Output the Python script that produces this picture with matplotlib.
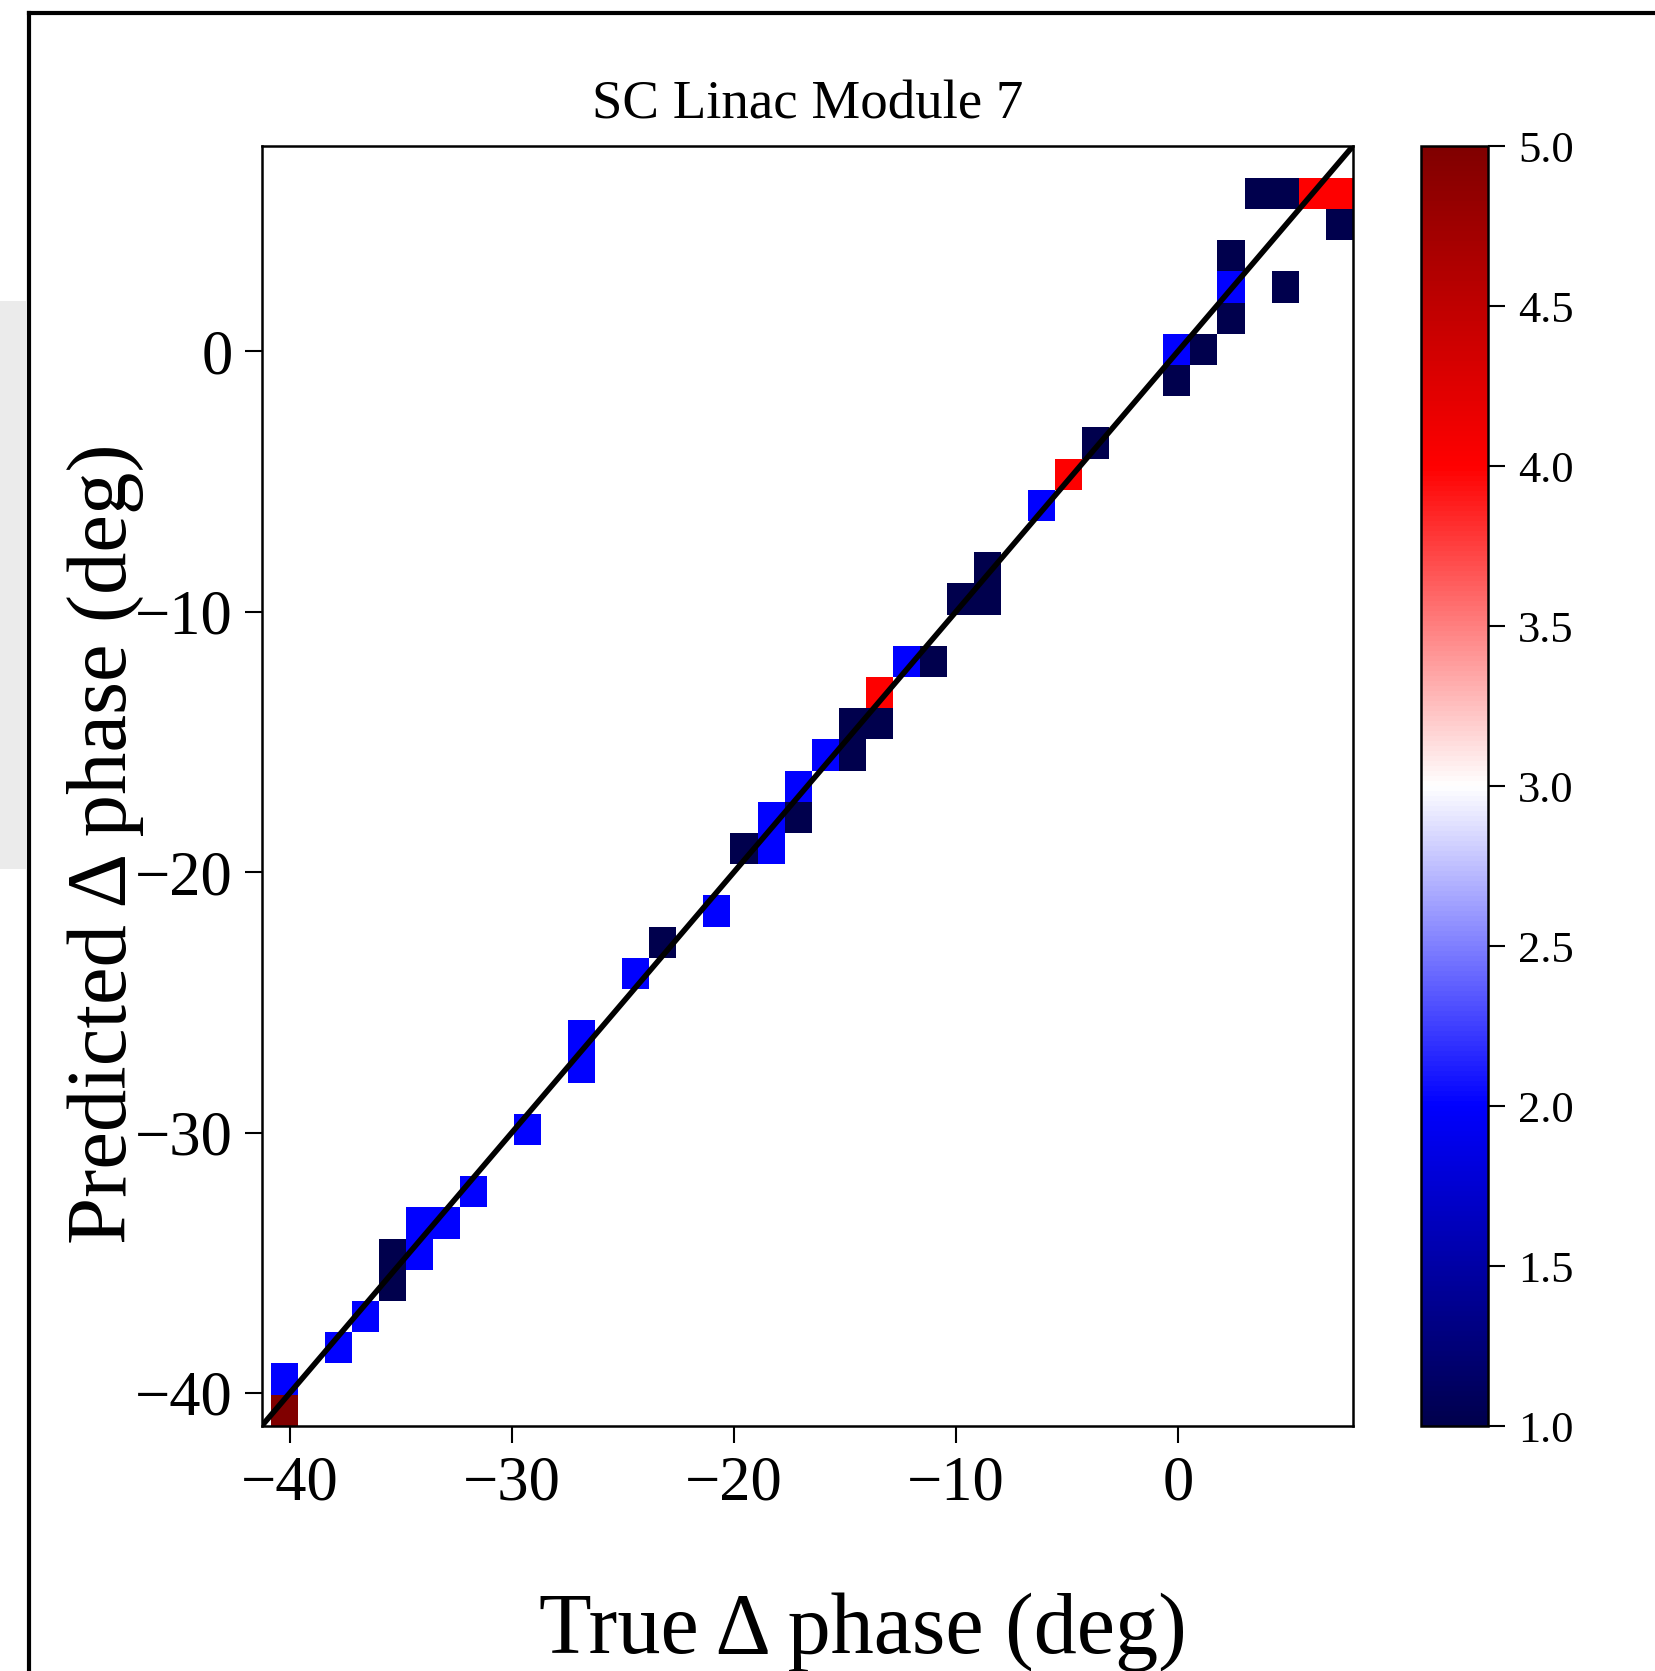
import numpy as np
import matplotlib
matplotlib.use("Agg")
import matplotlib.pyplot as plt
from matplotlib.lines import Line2D
from matplotlib.patches import Rectangle

plt.rcParams['font.family'] = ['Liberation Serif', 'DejaVu Serif']

# binned samples: true phase, predicted phase, count in bin
true_deg = [-40.26, -40.26, -37.82, -36.60, -35.39, -35.39, -34.17, -34.17,
            -32.95, -31.73, -29.30, -26.86, -26.86, -24.42, -23.20, -20.77,
            -19.55, -18.33, -18.33, -17.11, -17.11, -15.89, -14.68, -14.68,
            -13.46, -13.46, -12.24, -11.02, -9.81, -8.59, -8.59, -6.15,
            -4.93, -3.72, -0.06, -0.06, 1.16, 2.38, 2.38, 2.38, 4.81,
            3.60, 4.81, 6.03, 7.25, 7.25]
pred_deg = [-40.66, -39.46, -38.27, -37.07, -35.87, -34.67, -34.67, -33.47,
            -33.47, -32.28, -29.88, -27.48, -26.29, -23.89, -22.69, -21.49,
            -19.10, -19.10, -17.90, -17.90, -16.70, -15.50, -15.50, -14.31,
            -14.31, -13.11, -11.91, -11.91, -9.51, -9.51, -8.32, -5.92,
            -4.72, -3.52, -1.13, 0.07, 0.07, 1.27, 2.46, 3.66, 2.46,
            6.06, 6.06, 6.06, 6.06, 4.86]
counts = [5, 2, 2, 2, 1, 1, 2, 2,
          2, 2, 2, 2, 2, 2, 1, 2,
          1, 2, 2, 1, 2, 2, 1, 1,
          1, 4, 2, 1, 1, 1, 1, 2,
          4, 1, 1, 2, 1, 1, 2, 1, 1,
          1, 1, 4, 4, 1]

x_range = (-40.87, 7.87)
y_range = (-41.26, 6.66)
n_bins = 40
lims = (-41.27, 7.88)
ticks = [-40, -30, -20, -10, 0]
cbar_ticks = [1.0, 1.5, 2.0, 2.5, 3.0, 3.5, 4.0, 4.5, 5.0]

fig = plt.figure(figsize=(16.55, 16.71), dpi=100)
ax = fig.add_axes([0.1581, 0.1466, 0.6594, 0.7660])
cax = fig.add_axes([0.8584, 0.1466, 0.0405, 0.7660])

x_edges = np.linspace(x_range[0], x_range[1], n_bins + 1)
y_edges = np.linspace(y_range[0], y_range[1], n_bins + 1)
h = ax.hist2d(true_deg, pred_deg, bins=[x_edges, y_edges], weights=counts,
              cmin=1, cmap='seismic', vmin=1, vmax=5)
ax.plot(lims, lims, color='black', lw=4)
ax.set_xlim(lims)
ax.set_ylim(lims)
ax.set_xticks(ticks)
ax.set_yticks(ticks)
ax.tick_params(labelsize=45, length=12, width=1.5, pad=9)
for s in ax.spines.values():
    s.set_linewidth(1.8)

ax.set_title('SC Linac Module 7', fontsize=39.5, pad=20)
ax.set_xlabel('True \u0394 phase (deg)', fontsize=62)
ax.xaxis.set_label_coords(0.551, -0.130)
ax.set_ylabel('Predicted \u0394 phase (deg)', fontsize=61)
ax.yaxis.set_label_coords(-0.108, 0.455)

cb = fig.colorbar(h[3], cax=cax)
cb.set_ticks(cbar_ticks)
cb.ax.tick_params(labelsize=32, length=12, width=1.5, pad=10)
cb.outline.set_linewidth(1.8)

# slide frame around the figure
fig.add_artist(Rectangle((0, 0.48), 0.016, 0.34, transform=fig.transFigure,
                         facecolor='#ebebeb', edgecolor='none'))
fig.add_artist(Line2D([0.0175, 1.0], [0.9925, 0.9925], transform=fig.transFigure,
                      color='black', lw=3))
fig.add_artist(Line2D([0.0175, 0.0175], [0.0, 0.9925], transform=fig.transFigure,
                      color='black', lw=3))

fig.savefig('out.png', dpi=100)
